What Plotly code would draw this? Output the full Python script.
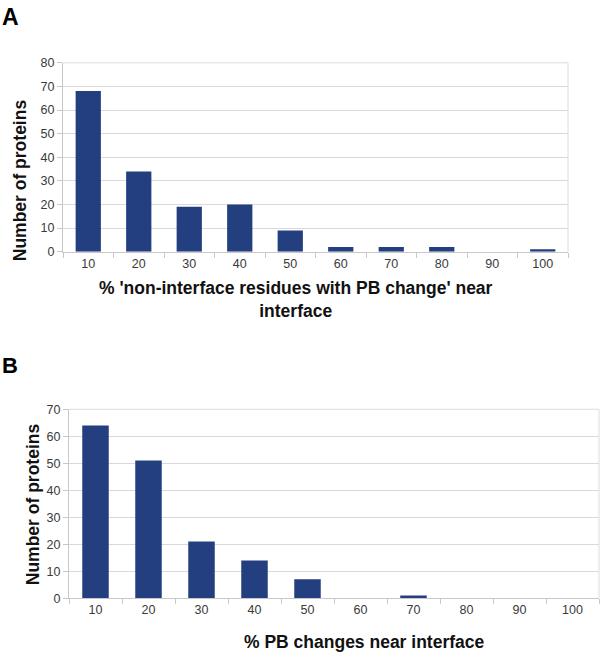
import plotly.graph_objects as go

categories = ["10", "20", "30", "40", "50", "60", "70", "80", "90", "100"]
counts_a = [68, 34, 19, 20, 9, 2, 2, 2, 0, 1]
counts_b = [64, 51, 21, 14, 7, 0, 1, 0, 0, 0]

BAR = "#243F7F"
GRID = "#d9d9d9"
FONT = "Liberation Sans, Arial, sans-serif"
W, H = 600, 659

def px(x):
    return x / W

def py(y):
    return 1 - y / H

fig = go.Figure()
fig.add_trace(go.Bar(x=categories, y=counts_a, xaxis="x", yaxis="y",
                     marker=dict(color=BAR, line=dict(width=0)),
                     showlegend=False))
fig.add_trace(go.Bar(x=categories, y=counts_b, xaxis="x2", yaxis="y2",
                     marker=dict(color=BAR, line=dict(width=0)),
                     showlegend=False))

xcommon = dict(type="category", showgrid=False, showline=True, linecolor="#c8c8c8",
               ticks="outside", tickson="boundaries", ticklen=5, tickcolor="#c8c8c8",
               tickfont=dict(family=FONT, size=12.5, color="#3a3a3a"), mirror=False)
ycommon = dict(showgrid=True, gridcolor=GRID, gridwidth=1, showline=True, linecolor="#c8c8c8",
               ticks="outside", ticklen=5, tickcolor="#c8c8c8", zeroline=False,
               tickfont=dict(family=FONT, size=12.5, color="#3a3a3a"))

fig.update_layout(
    width=W, height=H, margin=dict(l=0, r=0, t=0, b=0),
    paper_bgcolor="white", plot_bgcolor="white", bargap=0.5,
    xaxis=dict(domain=[px(63), px(568)], anchor="y", **xcommon),
    yaxis=dict(domain=[py(250), py(57)], anchor="x", range=[0, 80], dtick=10, **ycommon),
    xaxis2=dict(domain=[px(69), px(599)], anchor="y2", **xcommon),
    yaxis2=dict(domain=[py(604), py(411)], anchor="x2", range=[0, 70], dtick=10, **ycommon),
)

# light border on top and right of plot areas
for (x0, x1, y0, y1) in [(63, 568, 250, 57), (69, 599, 604, 411)]:
    fig.add_shape(type="line", xref="paper", yref="paper", x0=px(x0), x1=px(x1), y0=py(y1), y1=py(y1),
                  line=dict(color="#dcdcdc", width=1))
    fig.add_shape(type="line", xref="paper", yref="paper", x0=px(x1), x1=px(x1), y0=py(y0), y1=py(y1),
                  line=dict(color="#dcdcdc", width=1))

ann = [
    dict(text="<b>A</b>", x=px(0), y=py(10), size=23),
    dict(text="<b>B</b>", x=px(0), y=py(366), size=22),
]
for a in ann:
    fig.add_annotation(text=a["text"], x=a["x"], y=a["y"], xref="paper", yref="paper",
                       xanchor="left", yanchor="middle", showarrow=False,
                       font=dict(family=FONT, size=a["size"], color="#000000"))

fig.add_annotation(text="<b>% 'non-interface residues with PB change' near<br>interface</b>",
                   x=px(296), y=py(299), xref="paper", yref="paper", xanchor="center", yanchor="middle",
                   showarrow=False, align="center", font=dict(family=FONT, size=17.5, color="#111111"))
fig.add_annotation(text="<b>% PB changes near interface</b>",
                   x=px(364), y=py(649), xref="paper", yref="paper", xanchor="center", yanchor="middle",
                   showarrow=False, font=dict(family=FONT, size=17.5, color="#111111"))

for (x, y) in [(20, 177), (33, 508)]:
    fig.add_annotation(text="<b>Number of proteins</b>", x=px(x), y=py(y), xref="paper", yref="paper",
                       xanchor="center", yanchor="middle", showarrow=False, textangle=-90,
                       font=dict(family=FONT, size=17.5, color="#111111"))

fig.write_html("out.html", config={"displayModeBar": False},
               post_script="document.body.style.margin='0';document.body.style.overflow='hidden';")
